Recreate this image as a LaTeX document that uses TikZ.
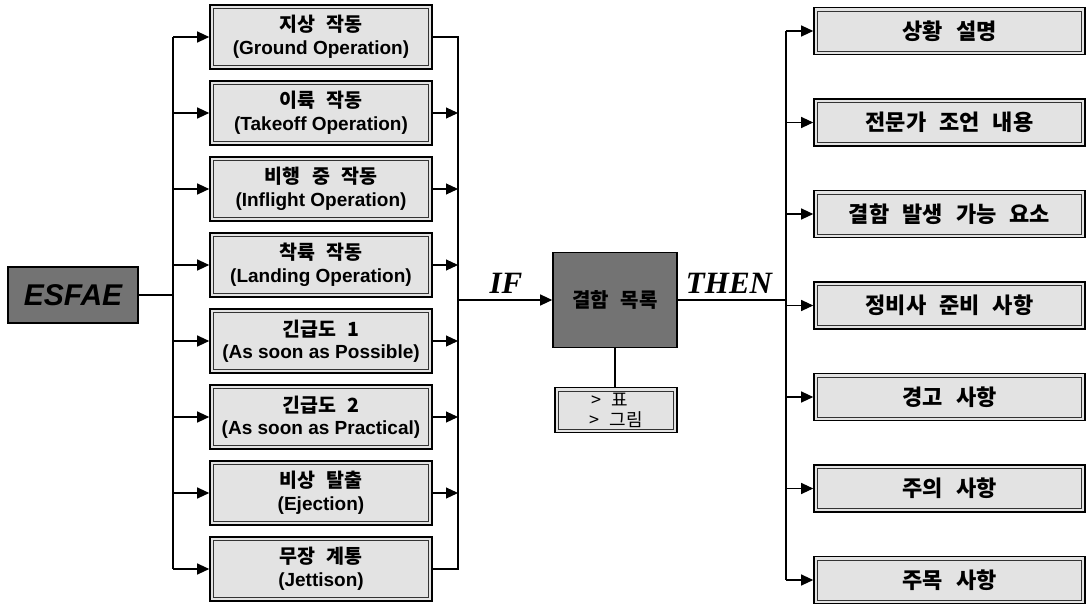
\documentclass[tikz,border=0pt]{standalone}
\usepackage{fontspec}
\setmainfont{Liberation Sans}
\newfontfamily\kr[WordSpace=2.6]{Noto Sans CJK KR}
\newfontfamily\tms{Liberation Serif}
\usetikzlibrary{arrows.meta}
\newcommand\twoline[2]{\raisebox{0pt}[0pt][0pt]{}{\kr\bfseries\fontsize{19.5}{22}\selectfont #1}\\[6pt]{\bfseries\fontsize{19}{21}\selectfont #2}}
\newcommand\rtxt[1]{{\kr\bfseries\fontsize{22}{24}\selectfont #1}}
\tikzset{
 lbox/.style={draw=black, line width=1.6pt, fill=gray!22, minimum width=222pt, minimum height=64pt, inner sep=0pt, align=center,
   path picture={\draw[line width=0.6pt, black!80] ([shift={(3.5pt,3.5pt)}]path picture bounding box.south west) rectangle ([shift={(-3.5pt,-3.5pt)}]path picture bounding box.north east);}},
 rbox/.style={lbox, minimum width=271pt, minimum height=47pt},
 pbox/.style={lbox, minimum width=122pt, minimum height=45pt, align=left},
 dbox/.style={draw=black, line width=1.6pt, fill=black!55, inner sep=0pt},
 conn/.style={line width=1.1pt},
 arr/.style={conn, -{Triangle[length=12pt,width=11pt]}},
 lab/.style={font=\tms\bfseries\itshape\fontsize{31}{34}\selectfont, inner sep=0pt}
}
\begin{document}
\begin{tikzpicture}[x=1pt,y=-1pt]
\useasboundingbox (0,0) rectangle (1087,607);
% ESFAE
\node[dbox, minimum width=130pt, minimum height=56pt, font=\bfseries\itshape\fontsize{30}{32}\selectfont] (E) at (73,295) {ESFAE};
% left boxes
\node[lbox] (L1) at (321,37)  {\twoline{지상 작동}{(Ground Operation)}};
\node[lbox] (L2) at (321,113) {\twoline{이륙 작동}{(Takeoff Operation)}};
\node[lbox] (L3) at (321,189) {\twoline{비행 중 작동}{(Inflight Operation)}};
\node[lbox] (L4) at (321,265) {\twoline{착륙 작동}{(Landing Operation)}};
\node[lbox] (L5) at (321,341) {\twoline{긴급도 1}{(As soon as Possible)}};
\node[lbox] (L6) at (321,417) {\twoline{긴급도 2}{(As soon as Practical)}};
\node[lbox] (L7) at (321,493) {\twoline{비상 탈출}{(Ejection)}};
\node[lbox] (L8) at (321,569) {\twoline{무장 계통}{(Jettison)}};
% left trunk
\coordinate (J) at (173,295);
\draw[conn] (E.east) -- (J);
\draw[conn] (L1.west -| J) -- (L8.west -| J);
\foreach \i in {1,...,8} \draw[arr] (L\i.west -| J) -- (L\i.west);
% right collector
\coordinate (K) at (458,300);
\draw[conn] (L1.east) -- (L1.east -| K) -- (L8.east -| K) -- (L8.east);
\foreach \i in {2,...,7} \draw[arr] (L\i.east) -- (L\i.east -| K);
% center
\node[dbox, minimum width=124pt, minimum height=95pt, font=\kr\bfseries\fontsize{20}{22}\selectfont] (C) at (615,300) {결함 목록};
\draw[arr] (K) -- (C.west);
\node[lab] (IF) at (506,283) {IF};
\node[lab] (TH) at (729,283) {THEN};
\node[pbox, font=\kr\fontsize{18}{20}\selectfont] (P) at (616,410) {\hspace*{2pt}> 표\\> 그림};
\draw[conn] (C.south) -- (C.south |- P.north);
% right side
\coordinate (M) at (786,300);
\draw[conn] (C.east) -- (M);
\node[rbox] (R1) at (949.5,31)  {\rtxt{상황 설명}};
\node[rbox] (R2) at (949.5,122.5) {\rtxt{전문가 조언 내용}};
\node[rbox] (R3) at (949.5,214) {\rtxt{결함 발생 가능 요소}};
\node[rbox] (R4) at (949.5,305.5) {\rtxt{정비사 준비 사항}};
\node[rbox] (R5) at (949.5,397) {\rtxt{경고 사항}};
\node[rbox] (R6) at (949.5,488.5) {\rtxt{주의 사항}};
\node[rbox] (R7) at (949.5,580) {\rtxt{주목 사항}};
\draw[conn] (R1.west -| M) -- (R7.west -| M);
\foreach \i in {1,...,7} \draw[arr] (R\i.west -| M) -- (R\i.west);
\end{tikzpicture}
\end{document}
